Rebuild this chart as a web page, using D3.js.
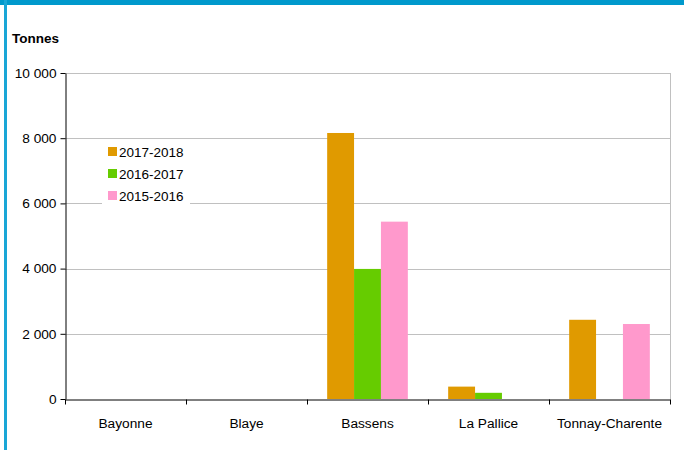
<!DOCTYPE html>
<html>
<head>
<meta charset="utf-8">
<script src="https://cdn.jsdelivr.net/npm/d3@7"></script>
<style>
  body { margin: 0; background: #fff; }
  svg { display: block; font-family: "Liberation Sans", Arial, sans-serif; }
</style>
</head>
<body>
<div id="chart"></div>
<script>
// Data
const ports = ["Bayonne", "Blaye", "Bassens", "La Pallice", "Tonnay-Charente"];
const seasons = ["2017-2018", "2016-2017", "2015-2016"];
const v2017_2018 = [0, 0, 8160, 380, 2430];
const v2016_2017 = [0, 0, 3990, 190, 0];
const v2015_2016 = [0, 0, 5440, 0, 2300];
const yTicks = [0, 2000, 4000, 6000, 8000, 10000];
const colors = ["#e09a00", "#66cc00", "#ff99cc"];

const width = 684, height = 450,
  margin = { left: 65, right: 14, top: 73, bottom: 51 };

const series = [v2017_2018, v2016_2017, v2015_2016];

var svg = d3.select("#chart").append("svg")
  .attr("width", width)
  .attr("height", height);

// frame
svg.append("rect").attr("x", 0).attr("y", 0).attr("width", width).attr("height", 5).attr("fill", "#0099cc");
svg.append("rect").attr("x", 4).attr("y", 0).attr("width", 3).attr("height", height).attr("fill", "#1aa6d6");

var x = d3.scaleBand()
  .domain(ports)
  .range([margin.left, width - margin.right]);

var xInner = d3.scaleBand()
  .domain(seasons)
  .range([0, x.bandwidth()])
  .paddingOuter(0.75);

var y = d3.scaleLinear()
  .domain([0, 10000])
  .range([height - margin.bottom, margin.top]);

var fmt = d => d3.format(",")(d).replace(/,/g, " ");

// gridlines
svg.append("g")
  .selectAll("line")
  .data(yTicks.slice(1))
  .enter()
  .append("line")
    .attr("x1", margin.left)
    .attr("x2", width - margin.right)
    .attr("y1", d => Math.round(y(d)) + 0.5)
    .attr("y2", d => Math.round(y(d)) + 0.5)
    .attr("stroke", "#c0c0c0")
    .attr("stroke-width", 1);

// right border of plot area
svg.append("line")
  .attr("x1", width - margin.right + 0.5)
  .attr("x2", width - margin.right + 0.5)
  .attr("y1", y(10000))
  .attr("y2", y(0))
  .attr("stroke", "#c0c0c0");

// bars
series.forEach((vals, s) => {
  svg.append("g")
    .selectAll("rect")
    .data(ports.map((p, i) => ({ port: p, value: vals[i] })))
    .enter()
    .append("rect")
      .attr("x", d => x(d.port) + xInner(seasons[s]))
      .attr("width", xInner.bandwidth())
      .attr("y", d => y(d.value))
      .attr("height", d => y(0) - y(d.value))
      .attr("fill", colors[s]);
});

// y axis
var yAxis = svg.append("g")
  .attr("transform", "translate(" + (margin.left + 0.5) + ",0)")
  .call(d3.axisLeft(y).tickValues(yTicks).tickFormat(fmt).tickSize(5).tickSizeOuter(0));
yAxis.selectAll("text").attr("font-size", 13.7).attr("fill", "#000").attr("dx", "-1");
yAxis.selectAll("line, path").attr("stroke", "#000");
yAxis.attr("font-family", null).attr("font-size", null);

// x axis
var xAxis = svg.append("g")
  .attr("transform", "translate(0," + (y(0) + 0.5) + ")")
  .call(d3.axisBottom(x).tickSize(0).tickSizeOuter(0));
xAxis.selectAll("text").attr("font-size", 13.7).attr("fill", "#000").attr("dy", "1.85em");
xAxis.select("path").attr("stroke", "#000");
xAxis.attr("font-family", null).attr("font-size", null);
xAxis.selectAll(".sep")
  .data(ports.map(p => x(p)).concat([width - margin.right]))
  .enter()
  .append("line")
    .attr("x1", d => Math.round(d) + 0.5)
    .attr("x2", d => Math.round(d) + 0.5)
    .attr("y1", 0)
    .attr("y2", 5)
    .attr("stroke", "#000");

// title
svg.append("text")
  .attr("x", 12)
  .attr("y", 43)
  .attr("font-size", 13.5)
  .attr("font-weight", "bold")
  .text("Tonnes");

// legend
var legend = svg.append("g").attr("transform", "translate(102,141)");
legend.append("rect")
  .attr("x", 0).attr("y", 0)
  .attr("width", 88).attr("height", 66)
  .attr("fill", "#fff");
seasons.forEach((s, i) => {
  var row = legend.append("g").attr("transform", "translate(6," + (6 + i * 22) + ")");
  row.append("rect").attr("width", 9).attr("height", 9).attr("fill", colors[i]);
  row.append("text")
    .attr("x", 11)
    .attr("y", 9.5)
    .attr("font-size", 13.5)
    .text(s);
});
</script>
</body>
</html>
